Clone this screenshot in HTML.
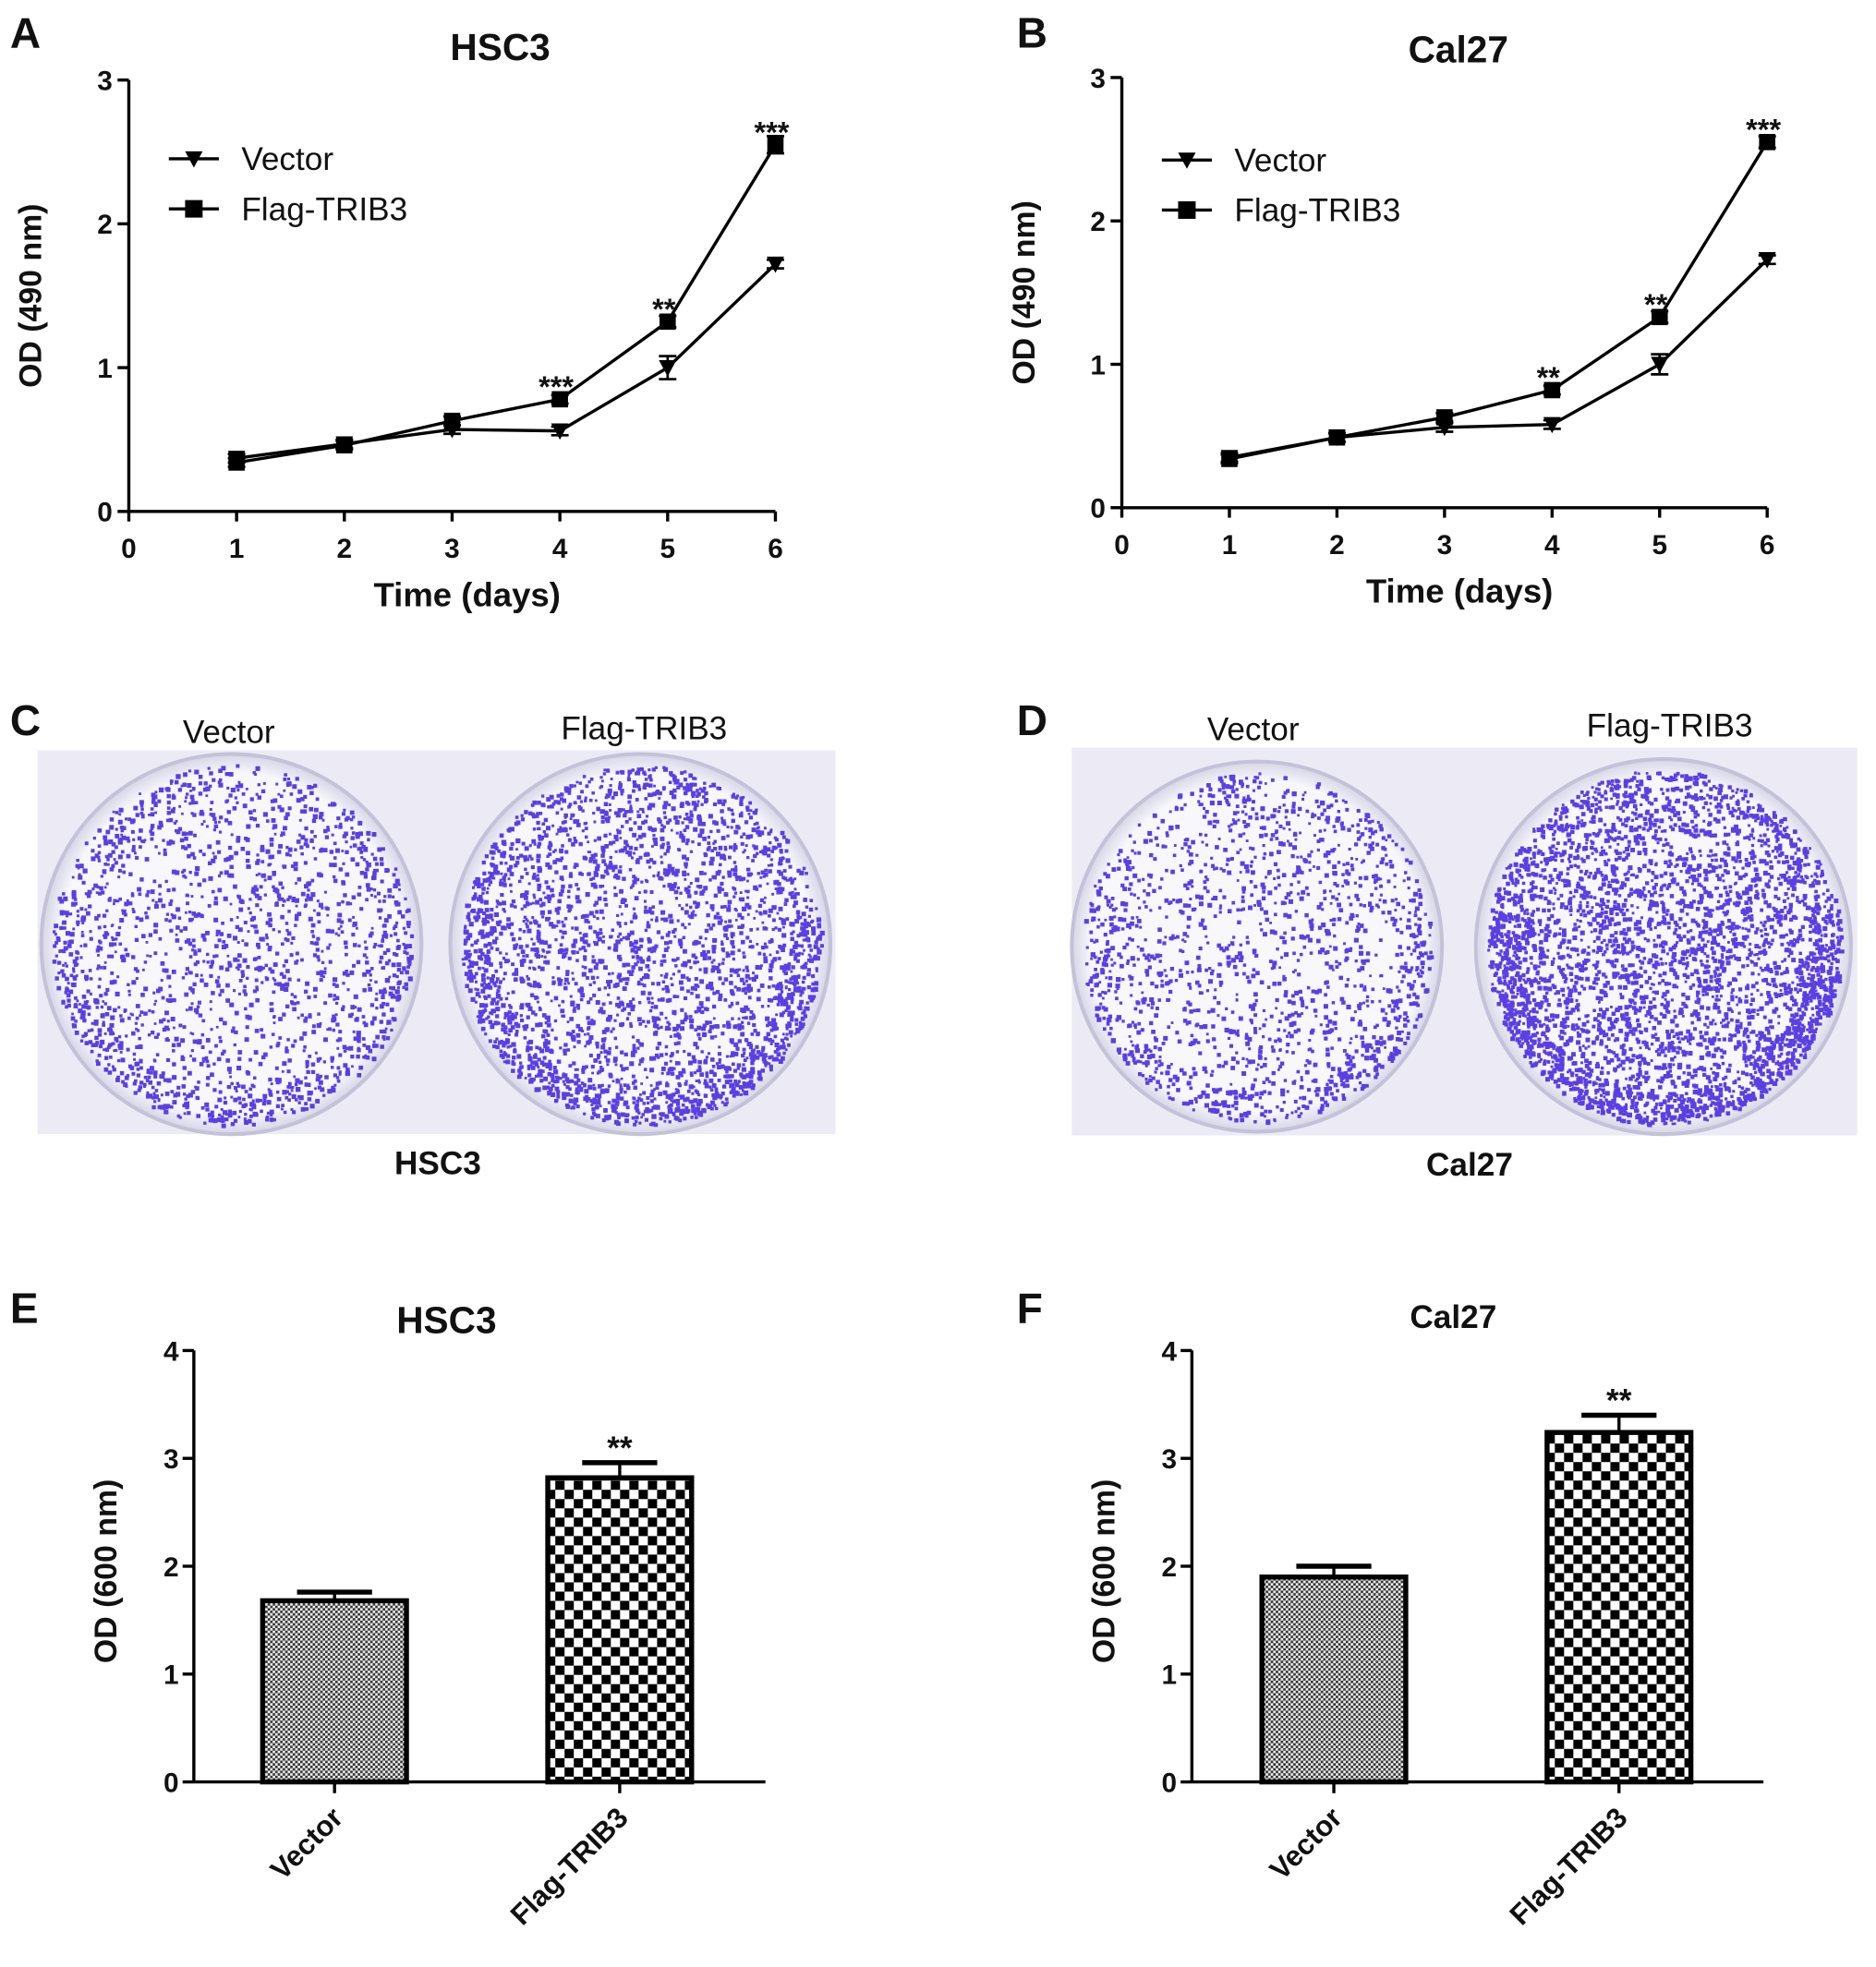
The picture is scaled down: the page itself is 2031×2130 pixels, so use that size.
<!DOCTYPE html>
<html><head><meta charset="utf-8"><style>
html,body{margin:0;padding:0;background:#fff;}
svg{display:block;}
text{font-family:"Liberation Sans",sans-serif;fill:#111;}
.b{font-weight:bold;}
</style></head><body>
<svg id="fig" width="2031" height="2130" viewBox="0 0 1500 1573" preserveAspectRatio="none" xmlns="http://www.w3.org/2000/svg">
<defs>
<pattern id="pv" width="4" height="4" patternUnits="userSpaceOnUse"><rect width="4" height="4" fill="#f2f2f2"/><rect width="2" height="2" fill="#333"/><rect x="2" y="2" width="2" height="2" fill="#333"/></pattern>
<pattern id="pf" width="14.8" height="14.8" patternUnits="userSpaceOnUse"><rect width="14.8" height="14.8" fill="#fff"/><rect width="7.4" height="7.4" fill="#000"/><rect x="7.4" y="7.4" width="7.4" height="7.4" fill="#000"/></pattern>
<radialGradient id="plate" cx="50%" cy="50%" r="50%"><stop offset="0.9" stop-color="#f7f7fc"/><stop offset="1" stop-color="#d6d5e6"/></radialGradient>
</defs>
<g id="root"></g>
</svg>
<script>
// Line chart data (OD 490 nm)
const days = [1,2,3,4,5,6];
const hscVector = [0.37,0.47,0.57,0.56,1.0,1.72];
const hscFlag = [0.34,0.46,0.63,0.78,1.32,2.55];
const hscVectorErr = [0.03,0.03,0.03,0.03,0.08,0.03];
const hscFlagErr = [0.03,0.03,0.03,0.03,0.04,0.06];
const hscStars = ["","","","***","**","***"];
const calVector = [0.35,0.49,0.56,0.58,1.0,1.73];
const calFlag = [0.34,0.49,0.63,0.82,1.33,2.55];
const calVectorErr = [0.03,0.03,0.03,0.03,0.07,0.03];
const calFlagErr = [0.03,0.03,0.03,0.03,0.04,0.04];
const calStars = ["","","","**","**","***"];
const lineXTicks = [0,1,2,3,4,5,6];
const lineYTicks = [0,1,2,3];
// Bar chart data (OD 600 nm)
const barCats = ["Vector","Flag-TRIB3"];
const hscBars = [1.68,2.82];
const hscBarErr = [0.08,0.14];
const calBars = [1.9,3.24];
const calBarErr = [0.1,0.16];
const barYTicks = [0,1,2,3,4];

const NS="http://www.w3.org/2000/svg";
const root=document.getElementById('root');
function el(tag,attrs,parent,txt){const e=document.createElementNS(NS,tag);for(const k in attrs)e.setAttribute(k,attrs[k]);if(txt!==undefined)e.textContent=txt;(parent||root).appendChild(e);return e;}

function label(x,y,t,name){const e=el('text',{x:x,y:y,'font-size':34,'class':'b'},root,t);

}
label(8,38,'A','panel-label-a');label(813,38,'B','panel-label-b');label(8,588,'C','panel-label-c');label(813,588,'D','panel-label-d');label(8,1058,'E','panel-label-e');label(813,1058,'F','panel-label-f');

function lineChart(o){
  const g=el('g',{});
  
  
  const sx=v=>o.x0+(o.x1-o.x0)*v/6, sy=v=>o.y0-(o.y0-o.y1)*v/3;
  const t=el('text',{x:o.titleX,y:o.titleY,'font-size':30,'class':'b','text-anchor':'middle'},g,o.title);
  
  
  el('line',{x1:o.x0,y1:o.y1,x2:o.x0,y2:o.y0,stroke:'#000','stroke-width':2.5},g);
  el('line',{x1:o.x0,y1:o.y0,x2:o.x1,y2:o.y0,stroke:'#000','stroke-width':2.5},g);
  lineYTicks.forEach(v=>{el('line',{x1:o.x0-9,y1:sy(v),x2:o.x0,y2:sy(v),stroke:'#000','stroke-width':2.5},g);
    el('text',{x:o.x0-13,y:sy(v)+8,'font-size':22,'class':'b','text-anchor':'end'},g,String(v));});
  lineXTicks.forEach(v=>{el('line',{x1:sx(v),y1:o.y0,x2:sx(v),y2:o.y0+8,stroke:'#000','stroke-width':2.5},g);
    el('text',{x:sx(v),y:o.y0+37,'font-size':22,'class':'b','text-anchor':'middle'},g,String(v));});
  const yl=el('text',{x:0,y:0,'font-size':25,'class':'b','text-anchor':'middle',transform:`translate(${o.x0-70},${(o.y0+o.y1)/2}) rotate(-90)`},g,'OD (490 nm)');
  
  
  const xl=el('text',{x:(o.x0+o.x1)/2+12,y:o.y0+76,'font-size':27,'class':'b','text-anchor':'middle'},g,'Time (days)');
  
  
  [[o.vec,o.vecErr,'tri','vector-series'],[o.flag,o.flagErr,'sq','flag-trib3-series']].forEach(([d,e,m,nm])=>{
    const s=el('g',{},g);
    
    
    el('polyline',{points:days.map((x,i)=>sx(x)+','+sy(d[i])).join(' '),fill:'none',stroke:'#000','stroke-width':2.5},s);
    days.forEach((x,i)=>{
      const cx=sx(x),cy=sy(d[i]);
      el('line',{x1:cx,y1:sy(d[i]-e[i]),x2:cx,y2:sy(d[i]+e[i]),stroke:'#000','stroke-width':2},s);
      el('line',{x1:cx-7,y1:sy(d[i]-e[i]),x2:cx+7,y2:sy(d[i]-e[i]),stroke:'#000','stroke-width':2},s);
      el('line',{x1:cx-7,y1:sy(d[i]+e[i]),x2:cx+7,y2:sy(d[i]+e[i]),stroke:'#000','stroke-width':2},s);
      let p;
      if(m==='sq')p=el('rect',{x:cx-6.5,y:cy-6.5,width:13,height:13,fill:'#000'},s);
      else p=el('polygon',{points:`${cx-7},${cy-6} ${cx+7},${cy-6} ${cx},${cy+7}`,fill:'#000'},s);
      
      
    });
  });
  o.stars.forEach((st,i)=>{if(st){const yy=sy(o.flag[i]+0.05)-6;el('text',{x:sx(days[i])-3,y:yy+10,'font-size':24,'class':'b','text-anchor':'middle'},g,st);}});
  const lg=el('g',{},g);
  
  
  const lx=o.x0+32;
  el('line',{x1:lx,y1:o.legY,x2:lx+40,y2:o.legY,stroke:'#000','stroke-width':2.5},lg);
  el('polygon',{points:`${lx+13},${o.legY-6} ${lx+27},${o.legY-6} ${lx+20},${o.legY+7}`,fill:'#000'},lg);
  el('text',{x:lx+58,y:o.legY+9,'font-size':26},lg,'Vector');
  el('line',{x1:lx,y1:o.legY+40,x2:lx+40,y2:o.legY+40,stroke:'#000','stroke-width':2.5},lg);
  el('rect',{x:lx+13,y:o.legY+33,width:14,height:14,fill:'#000'},lg);
  el('text',{x:lx+58,y:o.legY+49,'font-size':26},lg,'Flag-TRIB3');
}
lineChart({name:'hsc3-growth-chart',title:'HSC3',titleX:400,titleY:48,x0:103,x1:620,y0:409,y1:64,vec:hscVector,flag:hscFlag,vecErr:hscVectorErr,flagErr:hscFlagErr,stars:hscStars,legY:127});
lineChart({name:'cal27-growth-chart',title:'Cal27',titleX:1166,titleY:50,x0:897,x1:1413,y0:406,y1:62,vec:calVector,flag:calFlag,vecErr:calVectorErr,flagErr:calFlagErr,stars:calStars,legY:128});

let seed=7;function rnd(){seed=(seed*16807)%2147483647;return seed/2147483647;}
function photo(name,x,y,w,h,circles,labels,cap,capX){
  const g=el('g',{});
  
  
  el('rect',{x:x,y:y,width:w,height:h,fill:'#ecebf5'},g);
  circles.forEach(([cx,cy,r,n])=>{
    el('circle',{cx:cx,cy:cy,r:r,fill:'url(#plate)',stroke:'#c4c2d8','stroke-width':3},g);
    let pts='';
    const add=(px,py,sz)=>{if(py<y+h-2)pts+=`M${px.toFixed(1)},${py.toFixed(1)}h${sz}v${sz}h-${sz}z`;};
    for(let i=0;i<n;i++){const a=rnd()*Math.PI*2;const rr=(r-8)*Math.sqrt(rnd());add(cx+rr*Math.cos(a),cy+rr*Math.sin(a),2+rnd()*1.8);}
    // denser edge band, heavier at bottom
    for(let i=0;i<n*0.35;i++){const a=rnd()*Math.PI*2;const rr=(r-8)*(0.82+0.18*rnd());if(Math.sin(a)>-0.2||rnd()<0.3)add(cx+rr*Math.cos(a),cy+rr*Math.sin(a),2+rnd()*2);}
    el('path',{d:pts,fill:'#5b3fe4'},g);
  });
  labels.forEach(([lx,ly,t])=>el('text',{x:lx,y:ly,'font-size':26,'text-anchor':'middle'},g,t));
  el('text',{x:capX,y:y+h+32,'font-size':26,'class':'b','text-anchor':'middle'},g,cap);
}
photo('hsc3-colony-photo',30,600,638,307,[[185,755,152,1500],[512,755,152,2400]],[[183,594,'Vector'],[515,591,'Flag-TRIB3']],'HSC3',350);
photo('cal27-colony-photo',857,598,628,310,[[1005,757,148,1300],[1330,757,150,3200]],[[1002,592,'Vector'],[1335,589,'Flag-TRIB3']],'Cal27',1175);

function barChart(o){
  const g=el('g',{});
  
  
  const sy=v=>o.y0-(o.y0-o.y1)*v/4;
  const t=el('text',{x:o.titleX,y:o.titleY,'font-size':o.titleSize,'class':'b','text-anchor':'middle'},g,o.title);
  
  
  el('line',{x1:o.x0,y1:o.y1,x2:o.x0,y2:o.y0,stroke:'#000','stroke-width':2.5},g);
  el('line',{x1:o.x0,y1:o.y0,x2:o.x1,y2:o.y0,stroke:'#000','stroke-width':2.5},g);
  barYTicks.forEach(v=>{el('line',{x1:o.x0-9,y1:sy(v),x2:o.x0,y2:sy(v),stroke:'#000','stroke-width':2.5},g);
    el('text',{x:o.x0-12,y:sy(v)+8,'font-size':22,'class':'b','text-anchor':'end'},g,String(v));});
  const yl=el('text',{x:0,y:0,'font-size':25,'class':'b','text-anchor':'middle',transform:`translate(${o.x0-62},${(o.y0+o.y1)/2+4}) rotate(-90)`},g,'OD (600 nm)');
  
  
  const bw=115;
  barCats.forEach((c,i)=>{
    const bx=o.bx[i], v=o.vals[i], e=o.err[i], cx=bx+bw/2;
    el('line',{x1:cx,y1:sy(v),x2:cx,y2:sy(v+e),stroke:'#000','stroke-width':2.5},g);
    el('line',{x1:cx-30,y1:sy(v+e),x2:cx+30,y2:sy(v+e),stroke:'#000','stroke-width':4},g);
    const b=el('rect',{x:bx,y:sy(v),width:bw,height:sy(0)-sy(v),fill:i?'url(#pf)':'url(#pv)',stroke:'#000','stroke-width':4},g);
    
    
    el('line',{x1:cx,y1:o.y0,x2:cx,y2:o.y0+9,stroke:'#000','stroke-width':2.5},g);
    const tl=el('text',{x:0,y:0,'font-size':23,'class':'b','text-anchor':'end',transform:`translate(${cx+8},${o.y0+30}) rotate(-45)`},g,c);
    
    
  });
  el('text',{x:o.bx[1]+bw/2,y:sy(o.vals[1]+o.err[1])-3,'font-size':26,'class':'b','text-anchor':'middle'},g,'**');
}
barChart({name:'hsc3-colony-bar-chart',title:'HSC3',titleX:357,titleY:1066,titleSize:30,x0:155,x1:612,y0:1425,y1:1080,bx:[210,438],vals:hscBars,err:hscBarErr});
barChart({name:'cal27-colony-bar-chart',title:'Cal27',titleX:1162,titleY:1062,titleSize:26,x0:953,x1:1410,y0:1425,y1:1080,bx:[1009,1237],vals:calBars,err:calBarErr});
</script>
</body></html>
